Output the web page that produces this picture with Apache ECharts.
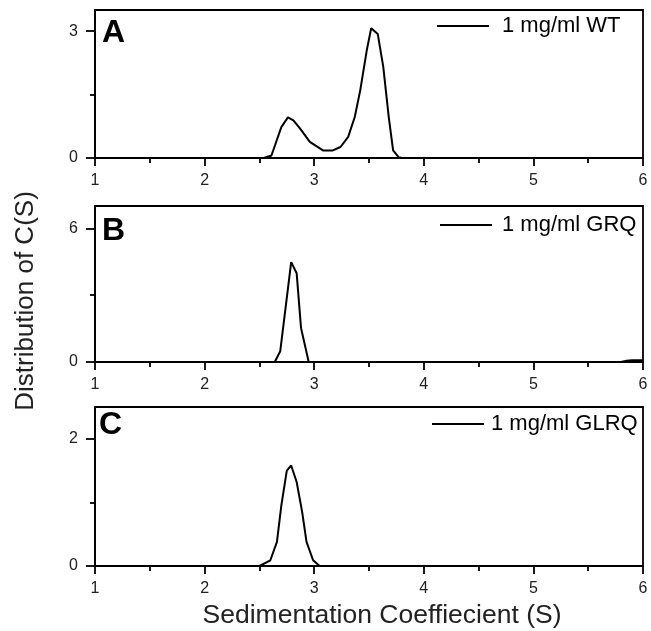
<!DOCTYPE html>
<html>
<head>
<meta charset="utf-8">
<script src="https://cdn.jsdelivr.net/npm/echarts@6/dist/echarts.min.js"></script>
<style>html,body{margin:0;padding:0;background:#fff;}#c{width:651px;height:631px;}</style>
</head>
<body>
<div id="c"></div>
<script>
// ---- data ----
const xTicks = [1, 2, 3, 4, 5, 6];
const names = ['1 mg/ml WT', '1 mg/ml GRQ', '1 mg/ml GLRQ'];
const letters = ['A', 'B', 'C'];

const aX = [1.0, 2.50, 2.54, 2.61, 2.70, 2.76, 2.81, 2.87, 2.96, 3.02, 3.08, 3.17, 3.24, 3.31, 3.37, 3.42, 3.48, 3.52, 3.58, 3.63, 3.68, 3.72, 3.77, 3.80, 6.0];
const aY = [0, 0, 0, 0.06, 0.73, 0.96, 0.89, 0.70, 0.38, 0.28, 0.18, 0.18, 0.26, 0.50, 0.97, 1.60, 2.55, 3.07, 2.93, 2.16, 0.97, 0.18, 0.02, 0, 0];

const bX = [1.0, 2.64, 2.69, 2.79, 2.84, 2.88, 2.95, 5.80, 5.85, 5.90, 6.0];
const bY = [0, 0, 0.48, 4.48, 3.98, 1.52, 0, 0, 0.06, 0.08, 0.08];

const cX = [1.0, 2.50, 2.60, 2.66, 2.70, 2.75, 2.79, 2.84, 2.89, 2.93, 2.99, 3.05, 6.0];
const cY = [0, 0, 0.09, 0.38, 0.95, 1.50, 1.58, 1.32, 0.85, 0.38, 0.09, 0, 0];

const yMax = [3.5, 7, 2.5];
const yMajor = [[0, 3], [0, 6], [0, 2]];
const yMinor = [[1.5], [3], [1]];

// ---- layout ----
const grids = [
  {left: 95, right: 8, top: 10, height: 148},
  {left: 95, right: 8, top: 206, height: 156},
  {left: 95, right: 8, top: 407, height: 159}
];
const legendPos = [
  {left: 437, top: 15, gap: 8},
  {left: 440, top: 214, gap: 5},
  {left: 432, top: 413, gap: 2}
];
const letterPos = [[102, 21], [102, 219], [99, 413]];

const xs = [aX, bX, cX], ys = [aY, bY, cY];
const font = 'Arial, "Liberation Sans", sans-serif';
const axisW = 1.8;

const option = {
  animation: false,
  backgroundColor: '#fff',
  grid: grids.map(g => Object.assign({show: true, borderColor: '#000', borderWidth: axisW, backgroundColor: 'transparent'}, g)),
  xAxis: grids.map((g, i) => ({
    type: 'value', gridIndex: i, min: 1, max: 6, interval: 1,
    axisLine: {show: true, onZero: false, lineStyle: {color: '#000', width: axisW}},
    axisTick: {show: true, length: 8, lineStyle: {color: '#000', width: axisW}},
    minorTick: {show: true, splitNumber: 2, length: 5, lineStyle: {color: '#000', width: axisW}},
    splitLine: {show: false},
    axisLabel: {color: '#222', fontSize: 16, fontFamily: font, margin: 15}
  })),
  yAxis: [].concat(
    grids.map((g, i) => ({
      type: 'value', gridIndex: i, min: 0, max: yMax[i],
      axisLine: {show: true, lineStyle: {color: '#000', width: axisW}},
      axisTick: {show: true, length: 9, customValues: yMajor[i], lineStyle: {color: '#000', width: axisW}},
      splitLine: {show: false},
      axisLabel: {color: '#222', fontSize: 16, fontFamily: font, margin: 17, customValues: yMajor[i]}
    })),
    grids.map((g, i) => ({
      type: 'value', gridIndex: i, min: 0, max: yMax[i], position: 'left',
      axisLine: {show: false},
      axisTick: {show: true, length: 5, customValues: yMinor[i], lineStyle: {color: '#000', width: axisW}},
      splitLine: {show: false},
      axisLabel: {show: false}
    }))
  ),
  legend: legendPos.map((p, i) => ({
    data: [names[i]], left: p.left, top: p.top, padding: 0,
    icon: 'rect', itemWidth: 52, itemHeight: 2, itemGap: 0,
    textStyle: {fontSize: 22, color: '#000', fontFamily: font, padding: [0, 0, 0, p.gap]},
    selectedMode: false
  })),
  series: xs.map((xa, i) => ({
    name: names[i], type: 'line', xAxisIndex: i, yAxisIndex: i,
    data: xa.map((x, k) => [x, ys[i][k]]),
    showSymbol: false, symbol: 'none',
    lineStyle: {color: '#000', width: 2}, itemStyle: {color: '#000'},
    clip: true
  })),
  graphic: [].concat(
    letters.map((t, i) => ({
      type: 'text', left: letterPos[i][0], top: letterPos[i][1] - 4,
      style: {text: t, fontSize: 32, fontWeight: 'bold', fontFamily: font, fill: '#000'}
    })),
    [
      {type: 'text', x: 382, y: 616, style: {text: 'Sedimentation Coeffiecient (S)', fontSize: 26.5, fontFamily: font, fill: '#222', align: 'center', verticalAlign: 'middle'}},
      {type: 'text', x: 26, y: 301, rotation: Math.PI / 2, style: {text: 'Distribution of C(S)', fontSize: 26, fontFamily: font, fill: '#222', align: 'center', verticalAlign: 'middle'}}
    ]
  )
};

const chart = echarts.init(document.getElementById('c'), null, {renderer: 'canvas'});
chart.setOption(option);
</script>
</body>
</html>
